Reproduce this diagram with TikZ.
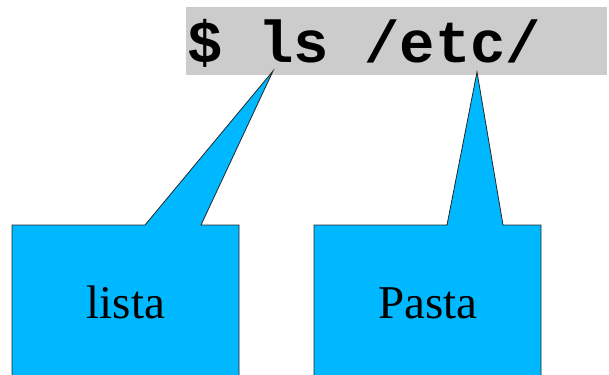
\documentclass[tikz,border=0pt]{standalone}
\usepackage{fontspec}
\setmainfont{Liberation Serif}
\setmonofont{Liberation Mono}
\definecolor{callblue}{RGB}{0,184,255}
\definecolor{cmdgray}{RGB}{204,204,204}
\begin{document}
\begin{tikzpicture}[x=1pt,y=-1pt,
  callout/.style={fill=callblue,draw=black!85,line width=0.8pt,line join=miter},
  calllabel/.style={font=\fontsize{47}{50}\selectfont,inner sep=0pt,anchor=base},
  cmdbox/.style={fill=cmdgray,inner sep=0pt,anchor=north west,minimum width=421pt,minimum height=68pt},
  cmdtext/.style={font=\ttfamily\bfseries\fontsize{59}{61}\selectfont,inner sep=0pt,anchor=base west}]
\useasboundingbox (0,0) rectangle (609,374);
\clip (0,0) rectangle (609,374);
\node[cmdbox] (cmd) at (186,7) {};
\node[cmdtext] (cmdtxt) at (187,63) {\$ ls /etc/};
\coordinate (tipA) at (273,71);
\coordinate (tipB) at (477,72);
\draw[callout] (12,380) -- (12,225) -- (145,225) -- (tipA) -- (201,225) -- (239,225) -- (239,380);
\draw[callout] (314,380) -- (314,225) -- (447,225) -- (tipB) -- (503,225) -- (541,225) -- (541,380);
\node[calllabel] (lista) at (126,318) {lista};
\node[calllabel] (pasta) at (428,318) {Pasta};
\end{tikzpicture}
\end{document}
